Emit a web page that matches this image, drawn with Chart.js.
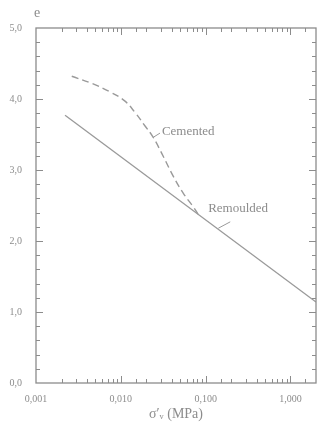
<!DOCTYPE html>
<html>
<head>
<meta charset="utf-8">
<script src="https://cdn.jsdelivr.net/npm/chart.js@4"></script>
<style>
  body { margin: 0; background: #fff; }
  #wrap { width: 322px; height: 435px; }
</style>
</head>
<body>
<div id="wrap"><canvas id="graph"></canvas></div>
<script>
// remoulded line (straight in log scale)
const remouldedStress = [0.0022, 2.0];
const remouldedVoid = [3.77, 1.14];
// cemented curve (dashed)
const cementedStress = [0.00264, 0.00454, 0.00746, 0.0112, 0.0147, 0.0193, 0.0241, 0.0317, 0.0416, 0.0546, 0.0716, 0.0813];
const cementedVoid = [4.32, 4.22, 4.10, 3.97, 3.81, 3.62, 3.46, 3.19, 2.91, 2.67, 2.48, 2.38];
// curve labels and their little leader marks
const labelNames = ['Cemented', 'Remoulded'];
const labelStress = [0.0305, 0.107];
const labelVoid = [3.54, 2.46];
const leaderCementedStress = [0.029, 0.0241];
const leaderCementedVoid = [3.52, 3.46];
const leaderRemouldedStress = [0.195, 0.141];
const leaderRemouldedVoid = [2.27, 2.18];
const majorX = [0.001, 0.01, 0.1, 1];

const grey = '#8c8c8c';
const serif = "'Liberation Serif', 'DejaVu Serif', serif";

function pts(xs, ys) {
  return xs.map((x, i) => ({ x: x, y: ys[i] }));
}
function isMajorX(v) {
  return majorX.some(m => Math.abs(v - m) / m < 1e-6);
}

// frame, inward ticks, curve labels
const paperPlugin = {
  id: 'paper',
  afterDraw(chart) {
    const c = chart.ctx, a = chart.chartArea;
    const xs = chart.scales.x, ys = chart.scales.y;
    c.save();
    c.strokeStyle = grey;
    c.lineWidth = 1.3;
    c.strokeRect(a.left, a.top, a.right - a.left, a.bottom - a.top);
    c.lineWidth = 1;
    c.beginPath();
    xs.ticks.forEach(t => {
      const px = Math.round(xs.getPixelForValue(t.value)) + 0.5;
      if (px <= a.left + 1 || px >= a.right - 1) return;
      const len = isMajorX(t.value) ? 7 : 4;
      c.moveTo(px, a.bottom); c.lineTo(px, a.bottom - len);
      c.moveTo(px, a.top); c.lineTo(px, a.top + len);
    });
    ys.ticks.forEach(t => {
      const py = Math.round(ys.getPixelForValue(t.value)) + 0.5;
      if (py <= a.top + 1 || py >= a.bottom - 1) return;
      const major = Math.abs(t.value - Math.round(t.value)) < 1e-6;
      const len = major ? 7 : 4;
      c.moveTo(a.left, py); c.lineTo(a.left + len, py);
      c.moveTo(a.right, py); c.lineTo(a.right - len, py);
    });
    c.stroke();

    c.fillStyle = grey;
    c.font = '13px ' + serif;
    c.textBaseline = 'middle';
    c.textAlign = 'left';
    labelNames.forEach((n, i) => {
      c.fillText(n, xs.getPixelForValue(labelStress[i]), ys.getPixelForValue(labelVoid[i]));
    });
    c.font = '14px ' + serif;
    c.textAlign = 'center';
    c.fillText('e', a.left + 1, a.top - 15);
    c.restore();
  }
};

const ctx = document.getElementById('graph').getContext('2d');
const chart = new Chart(ctx, {
  type: 'scatter',
  data: {
    datasets: [
      {
        label: 'Remoulded',
        data: pts(remouldedStress, remouldedVoid),
        showLine: true, borderColor: '#9a9a9a', borderWidth: 1.3, pointRadius: 0
      },
      {
        label: 'Cemented',
        data: pts(cementedStress, cementedVoid),
        showLine: true, borderColor: '#9a9a9a', borderWidth: 1.4, pointRadius: 0,
        borderDash: [7, 4], tension: 0.4
      },
      {
        data: pts(leaderCementedStress, leaderCementedVoid),
        showLine: true, borderColor: '#9a9a9a', borderWidth: 1, pointRadius: 0
      },
      {
        data: pts(leaderRemouldedStress, leaderRemouldedVoid),
        showLine: true, borderColor: '#9a9a9a', borderWidth: 1, pointRadius: 0
      }
    ]
  },
  options: {
    responsive: true,
    maintainAspectRatio: false,
    animation: false,
    layout: { padding: { top: 28, right: 6, left: 0, bottom: 0 } },
    plugins: { legend: { display: false }, tooltip: { enabled: false } },
    scales: {
      x: {
        type: 'logarithmic',
        min: 0.001, max: 2,
        grid: { display: false, drawTicks: false, tickLength: 0 },
        border: { display: false },
        afterFit(s) { s.height = 52; s.paddingRight = 0; s.paddingLeft = 0; },
        ticks: {
          color: grey, font: { family: serif, size: 10 },
          maxRotation: 0, autoSkip: false, padding: 10,
          callback(v) { return isMajorX(v) ? v.toFixed(3).replace('.', ',') : ''; }
        },
        title: {
          display: true, text: 'σ′ᵥ (MPa)', color: grey,
          font: { family: serif, size: 14 }, padding: { top: 2, bottom: 12 }
        }
      },
      y: {
        min: 0, max: 5,
        grid: { display: false, drawTicks: false, tickLength: 0 },
        border: { display: false },
        afterFit(s) { s.width = 36; },
        ticks: {
          stepSize: 0.2, autoSkip: false, color: grey, padding: 14,
          font: { family: serif, size: 10 },
          callback(v) {
            return Math.abs(v - Math.round(v)) < 1e-6 ? v.toFixed(1).replace('.', ',') : '';
          }
        }
      }
    }
  },
  plugins: [paperPlugin]
});
</script>
</body>
</html>
